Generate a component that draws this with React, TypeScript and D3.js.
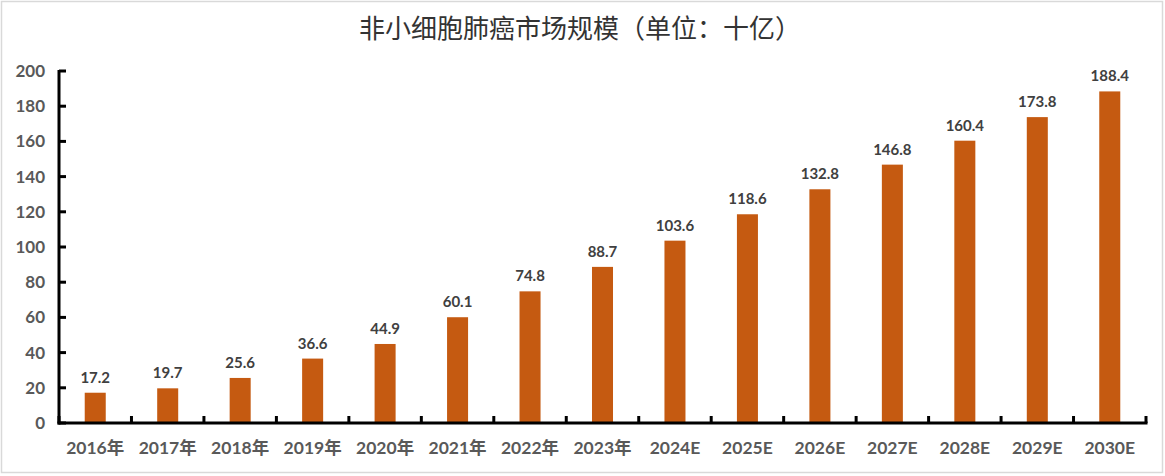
import { useMemo } from 'react';
import * as d3 from 'd3';

const WIDTH = 1165;
const HEIGHT = 476;

const categories = [
  '2016年', '2017年', '2018年', '2019年', '2020年', '2021年', '2022年', '2023年',
  '2024E', '2025E', '2026E', '2027E', '2028E', '2029E', '2030E',
];
const values = [17.2, 19.7, 25.6, 36.6, 44.9, 60.1, 74.8, 88.7, 103.6, 118.6, 132.8, 146.8, 160.4, 173.8, 188.4];
const yTicks = [0, 20, 40, 60, 80, 100, 120, 140, 160, 180, 200];

const TITLE = '非小细胞肺癌市场规模（单位：十亿）';
const BAR_COLOR = '#C55A11';
const LABEL_FONT = 'Lato, "Open Sans", "Noto Sans CJK SC", sans-serif';

const M = { left: 59, right: 19, top: 71, bottom: 53 };

export default function App() {
  const x = useMemo(
    () => d3.scaleBand<string>().domain(categories).range([M.left, WIDTH - M.right]).paddingInner(0.71).paddingOuter(0.355),
    [],
  );
  const band = useMemo(
    () => d3.scaleBand<string>().domain(categories).range([M.left, WIDTH - M.right]),
    [],
  );
  const y = useMemo(
    () => d3.scaleLinear().domain([0, 200]).range([HEIGHT - M.bottom, M.top]),
    [],
  );
  const y0 = y(0);

  return (
    <svg
      width={WIDTH}
      height={HEIGHT}
      style={{ position: 'absolute', left: 0, top: 0, background: '#fff' }}
    >
      <rect x={1.5} y={1.5} width={WIDTH - 4} height={HEIGHT - 5} fill="#fff" stroke="#d9d9d9" strokeWidth={1.5} />
      <text
        x={580}
        y={38}
        textAnchor="middle"
        fontSize={26}
        fontFamily='"Noto Sans CJK SC", sans-serif'
        fill="#333"
      >
        {TITLE}
      </text>

      {values.map((v, i) => {
        const c = categories[i];
        const bx = x(c) ?? 0;
        return (
          <g key={c}>
            <rect x={bx} y={y(v)} width={x.bandwidth()} height={y0 - y(v)} fill={BAR_COLOR} />
            <text
              x={bx + x.bandwidth() / 2}
              y={y(v) - 10}
              textAnchor="middle"
              fontSize={15}
              fontWeight="bold"
              fontFamily={LABEL_FONT}
              fill="#404040"
            >
              {v.toFixed(1)}
            </text>
            <text
              x={(band(c) ?? 0) + band.bandwidth() / 2}
              y={y0 + 31}
              textAnchor="middle"
              fontSize={17.5}
              fontWeight="bold"
              fontFamily={LABEL_FONT}
              fill="#595959"
            >
              {c}
            </text>
          </g>
        );
      })}

      {/* y axis */}
      <line x1={M.left} x2={M.left} y1={y(200) - 1} y2={y0 + 1.5} stroke="#000" strokeWidth={3} />
      {yTicks.map((t) => (
        <g key={t}>
          <line x1={M.left} x2={M.left + 7} y1={y(t)} y2={y(t)} stroke="#000" strokeWidth={3} />
          <text
            x={45}
            y={y(t)}
            dy="0.35em"
            textAnchor="end"
            fontSize={17}
            fontWeight="bold"
            fontFamily={LABEL_FONT}
            fill="#595959"
          >
            {t}
          </text>
        </g>
      ))}

      {/* x axis */}
      <line x1={M.left - 1.5} x2={WIDTH - M.right + 1.5} y1={y0} y2={y0} stroke="#000" strokeWidth={3} />
      {categories.map((c) => (
        <line
          key={c}
          x1={band(c) ?? 0}
          x2={band(c) ?? 0}
          y1={y0}
          y2={y0 - 7}
          stroke="#000"
          strokeWidth={3}
        />
      ))}
      <line
        x1={WIDTH - M.right}
        x2={WIDTH - M.right}
        y1={y0}
        y2={y0 - 7}
        stroke="#000"
        strokeWidth={3}
      />
    </svg>
  );
}
